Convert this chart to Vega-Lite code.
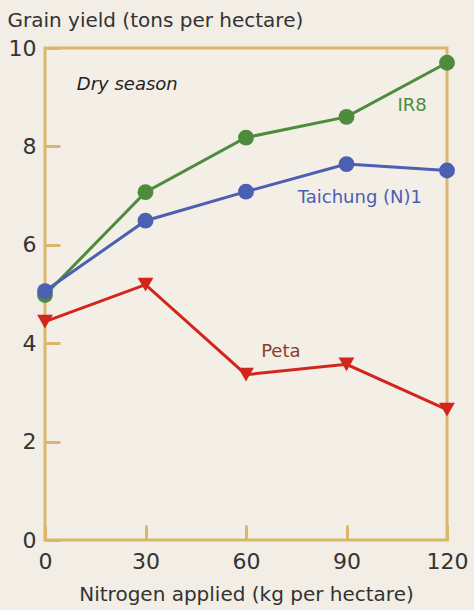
{
  "$schema": "https://vega.github.io/schema/vega-lite/v6.json",
  "width": 402,
  "height": 492,
  "autosize": {"type": "none"},
  "padding": {"left": 45, "top": 48, "right": 27, "bottom": 70},
  "background": "#f2ede5",
  "config": {
    "font": "DejaVu Sans",
    "view": {"stroke": "#d9b86c", "strokeWidth": 3, "fill": "#f3eee6"},
    "axis": {"grid": false, "domain": false, "tickColor": "#d9b86c", "tickWidth": 3, "labelColor": "#333333", "titleColor": "#333333", "labelFont": "DejaVu Sans", "titleFont": "DejaVu Sans", "titleFontWeight": "normal", "labelFlush": false}
  },
  "datasets": {
    "yield": [
      {"n": 0, "yield": 4.98, "variety": "IR8"},
      {"n": 30, "yield": 7.07, "variety": "IR8"},
      {"n": 60, "yield": 8.18, "variety": "IR8"},
      {"n": 90, "yield": 8.6, "variety": "IR8"},
      {"n": 120, "yield": 9.7, "variety": "IR8"},
      {"n": 0, "yield": 5.06, "variety": "Taichung (N)1"},
      {"n": 30, "yield": 6.49, "variety": "Taichung (N)1"},
      {"n": 60, "yield": 7.08, "variety": "Taichung (N)1"},
      {"n": 90, "yield": 7.64, "variety": "Taichung (N)1"},
      {"n": 120, "yield": 7.51, "variety": "Taichung (N)1"},
      {"n": 0, "yield": 4.44, "variety": "Peta"},
      {"n": 30, "yield": 5.19, "variety": "Peta"},
      {"n": 60, "yield": 3.36, "variety": "Peta"},
      {"n": 90, "yield": 3.57, "variety": "Peta"},
      {"n": 120, "yield": 2.65, "variety": "Peta"}
    ],
    "labels": [
      {"x": 109.6, "y": 8.82, "text": "IR8", "variety": "IR8"},
      {"x": 94, "y": 6.95, "text": "Taichung (N)1", "variety": "Taichung (N)1"},
      {"x": 70.4, "y": 3.82, "text": "Peta", "variety": "Peta label"}
    ],
    "note": [
      {"x": 9.5, "y": 9.25, "text": "Dry season"}
    ]
  },
  "layer": [
    {
      "data": {"name": "yield"},
      "mark": {"type": "line", "strokeWidth": 3},
      "encoding": {
        "x": {
          "field": "n", "type": "quantitative",
          "scale": {"domain": [0, 120], "nice": false},
          "axis": {"values": [0, 30, 60, 90, 120], "tickSize": -15, "labelPadding": 26, "labelFontSize": 22, "title": "Nitrogen applied (kg per hectare)", "titleFontSize": 20, "titlePadding": 12}
        },
        "y": {
          "field": "yield", "type": "quantitative",
          "scale": {"domain": [0, 10], "nice": false},
          "axis": {"values": [0, 2, 4, 6, 8, 10], "tickSize": -15, "labelPadding": 24, "labelFontSize": 22, "title": "Grain yield (tons per hectare)", "titleFontSize": 20, "titleAngle": 0, "titleAlign": "left", "titleBaseline": "alphabetic", "titleX": -38, "titleY": -22}
        },
        "color": {
          "field": "variety", "type": "nominal", "legend": null,
          "scale": {"domain": ["IR8", "Taichung (N)1", "Peta", "Peta label"], "range": ["#4c8c3c", "#4b5fb3", "#d2261c", "#8b3e2a"]}
        },
        "detail": {"field": "variety"}
      }
    },
    {
      "data": {"name": "yield"},
      "mark": {"type": "point", "filled": true, "opacity": 1},
      "encoding": {
        "x": {"field": "n", "type": "quantitative"},
        "y": {"field": "yield", "type": "quantitative"},
        "color": {"field": "variety", "type": "nominal", "legend": null},
        "shape": {"field": "variety", "type": "nominal", "legend": null,
          "scale": {"domain": ["IR8", "Taichung (N)1", "Peta"], "range": ["circle", "circle", "triangle-down"]}},
        "size": {"field": "variety", "type": "nominal", "legend": null,
          "scale": {"domain": ["IR8", "Taichung (N)1", "Peta"], "range": [250, 250, 300]}}
      }
    },
    {
      "data": {"name": "labels"},
      "mark": {"type": "text", "fontSize": 18, "align": "center", "baseline": "middle"},
      "encoding": {
        "x": {"field": "x", "type": "quantitative"},
        "y": {"field": "y", "type": "quantitative"},
        "text": {"field": "text"},
        "color": {"field": "variety", "type": "nominal", "legend": null}
      }
    },
    {
      "data": {"name": "note"},
      "mark": {"type": "text", "fontSize": 18, "fontStyle": "italic", "align": "left", "baseline": "middle", "color": "#222222"},
      "encoding": {
        "x": {"field": "x", "type": "quantitative"},
        "y": {"field": "y", "type": "quantitative"},
        "text": {"field": "text"}
      }
    }
  ]
}
